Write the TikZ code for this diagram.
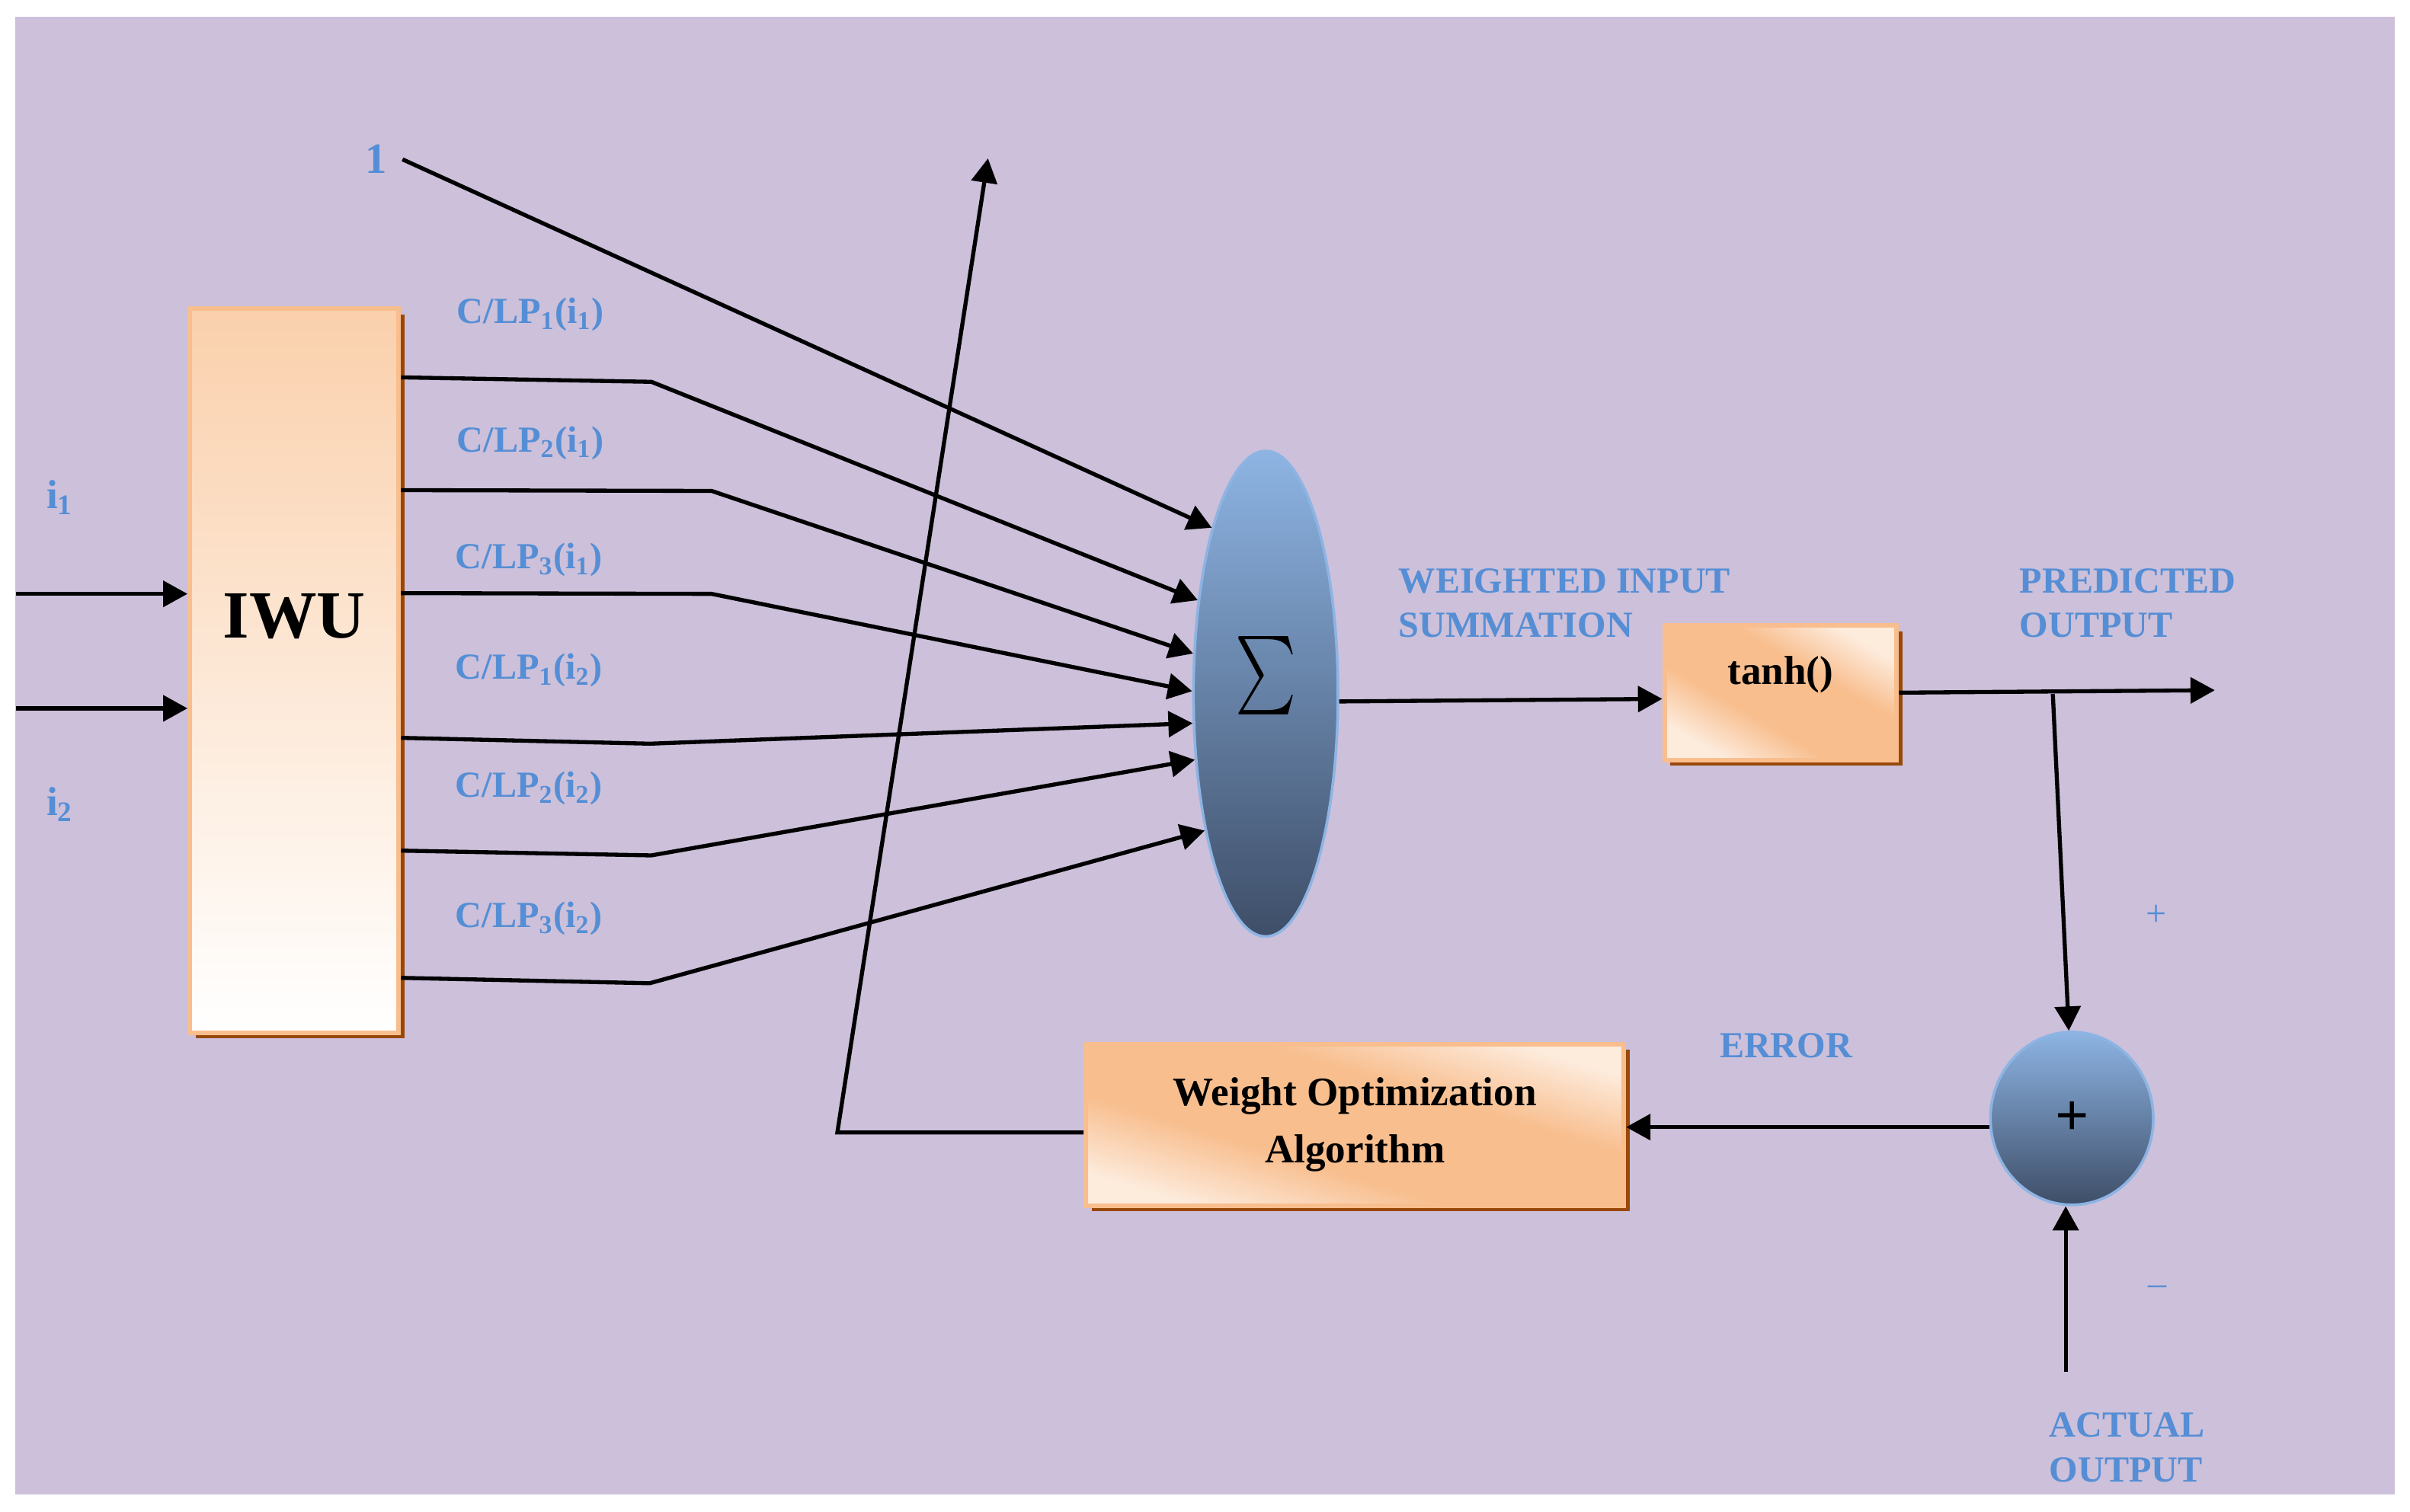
\documentclass[tikz,border=0pt]{standalone}
\usepackage{fontspec}
\setmainfont{Liberation Serif}
\usetikzlibrary{arrows.meta,shapes.geometric,shadows}

\definecolor{bgpurple}{RGB}{204,192,218}
\definecolor{boxline}{RGB}{249,190,142}
\definecolor{peach}{RGB}{248,190,142}
\definecolor{peachtop}{RGB}{250,208,172}
\definecolor{peachlight}{RGB}{253,235,220}
\definecolor{shadowbrown}{RGB}{152,72,7}
\definecolor{labelblue}{RGB}{85,142,213}
\definecolor{balltop}{RGB}{141,180,227}
\definecolor{ballbottom}{RGB}{62,78,104}

\pgfdeclareverticalshading{boxshade}{100bp}{color(0bp)=(peachlight); color(25bp)=(peachlight);
  color(40bp)=(peach); color(60bp)=(peach); color(75bp)=(peachlight); color(100bp)=(peachlight)}

\begin{document}
\begin{tikzpicture}[x=0.2mm,y=-0.2mm,
    arr/.style={line width=1.5pt,-{Triangle[length=9pt,width=9.5pt]}},
    lbl/.style={text=labelblue,font=\fontsize{13.6}{16.4}\selectfont\bfseries,inner sep=0pt,align=left},
    orangebox/.style={shape=rectangle,draw=boxline,line width=1.7pt,
        drop shadow={shadow xshift=0.75mm,shadow yshift=-0.75mm,fill=shadowbrown,opacity=1}},
    diagfill/.style={shade,shading=boxshade,shading angle=#1},
    ball/.style={shape=ellipse,draw=balltop,line width=1pt,top color=balltop,bottom color=ballbottom,inner sep=0pt}]
	\useasboundingbox (0,0) rectangle (1568,983.6);
	\fill[white] (0,0) rectangle (1568,983.6);
	\fill[bgpurple] (9.9,10.9) rectangle (1558.2,972.7);

	\node[orangebox,top color=peachtop,bottom color=white,minimum width=2.72cm,minimum height=9.42cm,
	    label={[font=\fontsize{25}{25}\selectfont\bfseries,yshift=0.71cm]center:IWU}] (iwu) at (191.5,436.5) {};
	\node[ball,minimum width=1.88cm,minimum height=6.32cm,
	    label={[yshift=0.24cm]center:\scalebox{2.14}[2.9]{$\sum$}}] (sigma) at (823.5,451.5) {};
	\node[orangebox,diagfill=-30,minimum width=3.02cm,minimum height=1.75cm,
	    label={[font=\fontsize{15}{15}\selectfont\bfseries,yshift=0.23cm]center:tanh()}] (tanh) at (1158.5,450.8) {};
	\node[ball,minimum width=2.12cm,minimum height=2.25cm,
	    label={[font=\fontsize{22}{22}\selectfont\bfseries]center:+}] (plus) at (1348,727.9) {};
	\node[orangebox,diagfill=-17,minimum width=7cm,minimum height=2.1cm,align=center,
	    font=\fontsize{15}{21.3}\selectfont\bfseries] (woa) at (881.5,732) {Weight Optimization\\Algorithm};

	% labels
	\node[lbl,font=\fontsize{15}{15}\selectfont\bfseries,anchor=base west] (ione) at (30,331) {i\textsubscript{1}};
	\node[lbl,font=\fontsize{15}{15}\selectfont\bfseries,anchor=base west] (itwo) at (30,530.7) {i\textsubscript{2}};
	\node[text=labelblue,font=\fontsize{16}{16}\selectfont\bfseries,inner xsep=0.2cm,inner ysep=0pt,anchor=base] (one) at (244.5,113) {1};
	\node[lbl,anchor=base west] (lp1a) at (297,210.5) {C/LP\textsubscript{1}(i\textsubscript{1})};
	\node[lbl,anchor=base west] (lp2a) at (297,294) {C/LP\textsubscript{2}(i\textsubscript{1})};
	\node[lbl,anchor=base west] (lp3a) at (296,370) {C/LP\textsubscript{3}(i\textsubscript{1})};
	\node[lbl,anchor=base west] (lp1b) at (296,442) {C/LP\textsubscript{1}(i\textsubscript{2})};
	\node[lbl,anchor=base west] (lp2b) at (296,518.8) {C/LP\textsubscript{2}(i\textsubscript{2})};
	\node[lbl,anchor=base west] (lp3b) at (296,603.5) {C/LP\textsubscript{3}(i\textsubscript{2})};
	\node[lbl,anchor=west] (wsum) at (909.7,392.6) {WEIGHTED INPUT\\SUMMATION};
	\node[lbl,anchor=west] (pred) at (1313.7,392.6) {PREDICTED\\OUTPUT};
	\node[lbl,anchor=base west] (err) at (1118.5,688.3) {ERROR};
	\node[lbl,anchor=west] (act) at (1333,942) {ACTUAL\\OUTPUT};
	\node[text=labelblue,font=\fontsize{13.6}{13.6}\selectfont] (pluslbl) at (1403,596) {+};
	\node[text=labelblue,font=\fontsize{13.6}{13.6}\selectfont] (minuslbl) at (1403.5,840) {–};

	% free ends
	\coordinate (in1) at (10.4,386.5);
	\coordinate (in2) at (10.4,461);
	\coordinate (outtip) at (1441,449.2);
	\coordinate (tap) at (1335.6,451.6);
	\coordinate (actual) at (1344,893);
	\coordinate (wcorner) at (544.8,737);
	\coordinate (wtip) at (642.8,103.1);

	\draw[arr] (in1) -- (in1 -| iwu.west);
	\draw[arr] (in2) -- (in2 -| iwu.west);
	\draw[arr] (one.east) -- (sigma.108);
	\draw[arr] (iwu.east |- 0,245.6) -- (423.8,248.5) -- (sigma.126);
	\draw[arr] (iwu.east |- 0,319) -- (463,319.5) -- (sigma.151);
	\draw[arr] (iwu.east |- 0,386) -- (463,386.5) -- (sigma.178);
	\draw[arr] (iwu.east |- 0,480.2) -- (423,484) -- (sigma.202);
	\draw[arr] (iwu.east |- 0,553.6) -- (423.8,556.7) -- (sigma.223);
	\draw[arr] (iwu.east |- 0,636.4) -- (422.7,639.9) -- (sigma.246);
	\draw[arr] (sigma.-6) -- (tanh.183);
	\draw[arr] (tanh.east) -- (outtip);
	\draw[arr] (tap) -- (plus.92);
	\draw[arr] (actual) -- (actual |- plus.south);
	\draw[arr] (plus.186) -- (plus.186 -| woa.east);
	\draw[arr] (woa.west |- wcorner) -- (wcorner) -- (wtip);
\end{tikzpicture}
\end{document}
